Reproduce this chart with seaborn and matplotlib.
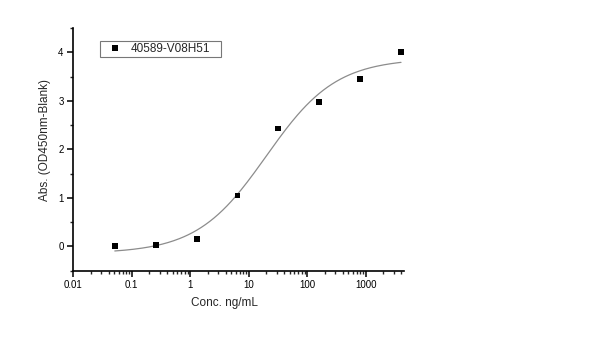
import numpy as np
import pandas as pd
import matplotlib
matplotlib.use("Agg")
import matplotlib.pyplot as plt
import seaborn as sns
from matplotlib.ticker import LogLocator, FixedLocator, NullFormatter, MultipleLocator

# ---- data ----
series_name = "40589-V08H51"
conc = [0.0512, 0.256, 1.28, 6.4, 32, 160, 800, 4000]
absorb = [0.01, 0.03, 0.16, 1.05, 2.43, 2.97, 3.45, 4.00]
x_ticks = [0.01, 0.1, 1, 10, 100, 1000]
x_tick_labels = ["0.01", "0.1", "1", "10", "100", "1000"]
y_ticks = [0, 1, 2, 3, 4]

df = pd.DataFrame({"conc": conc, "abs": absorb, "series": series_name})

# ---- 4-parameter logistic fit (Levenberg-Marquardt, numpy only) ----
lx = np.log10(np.array(conc, float))
yy = np.array(absorb, float)

def f4(p, t):
    A, D, lc, B = p
    return D + (A - D) / (1.0 + 10.0 ** ((t - lc) * B))

p = np.array([0.0, 4.0, 1.2, 0.8])
lam = 1e-2
def sse(p):
    return np.sum((yy - f4(p, lx)) ** 2)
for _ in range(500):
    r = yy - f4(p, lx)
    J = np.empty((len(lx), 4))
    for k in range(4):
        dp = np.zeros(4); h = 1e-6 * max(1.0, abs(p[k])); dp[k] = h
        J[:, k] = (f4(p + dp, lx) - f4(p - dp, lx)) / (2 * h)
    JTJ = J.T @ J
    step = np.linalg.solve(JTJ + lam * np.diag(np.diag(JTJ)), J.T @ r)
    if sse(p + step) < sse(p):
        p = p + step; lam *= 0.5
    else:
        lam *= 4

fit_x = np.logspace(np.log10(conc[0]), np.log10(conc[-1]), 200)
fit_df = pd.DataFrame({"conc": fit_x, "abs": f4(p, np.log10(fit_x))})

# ---- plotting ----
sns.set_theme(style="ticks")
plt.rcParams["font.family"] = ["Liberation Sans", "DejaVu Sans"]

fig = plt.figure(figsize=(6, 3.38), dpi=100)
ax = fig.add_axes([73.3 / 600, 1 - 270.7 / 338, (404 - 73.3) / 600, (270.7 - 28) / 338])

sns.lineplot(data=fit_df, x="conc", y="abs", ax=ax, color="#8c8c8c", lw=0.9,
             legend=False, estimator=None)
sns.scatterplot(data=df, x="conc", y="abs", hue="series", palette=["black"],
                marker="s", s=18, edgecolor="black", linewidth=0, ax=ax, zorder=3)

ax.set_xscale("log")
ax.set_xlim(0.01, 4500)
ax.set_ylim(-0.5, 4.5)
ax.xaxis.set_major_locator(FixedLocator(x_ticks))
ax.set_xticklabels(x_tick_labels)
ax.xaxis.set_minor_locator(LogLocator(base=10, subs=np.arange(2, 10), numticks=20))
ax.xaxis.set_minor_formatter(NullFormatter())
ax.yaxis.set_major_locator(FixedLocator(y_ticks))
ax.yaxis.set_minor_locator(MultipleLocator(0.5))

for s in ["top", "right"]:
    ax.spines[s].set_visible(False)
for s in ["left", "bottom"]:
    ax.spines[s].set_linewidth(1.2)
    ax.spines[s].set_color("black")

ax.tick_params(axis="both", which="major", direction="out", length=4, width=1.1,
               labelsize=7, colors="black", pad=3)
ax.tick_params(axis="both", which="minor", direction="out", length=2.5, width=1.0)

ax.set_xlabel("Conc. ng/mL", fontsize=8.5)
ax.set_ylabel("Abs. (OD450nm-Blank)", fontsize=8.5)
ax.xaxis.set_label_coords(0.457, -0.134)
ax.yaxis.set_label_coords(-0.086, 0.539)
ax.xaxis.label.set_va("center")
ax.yaxis.label.set_va("center")

leg = ax.legend(loc="upper left", bbox_to_anchor=(0.081, 0.892, 0.366, 0.056),
                mode="expand", borderaxespad=0,
                fontsize=8.5, frameon=True, fancybox=False, handletextpad=0.2,
                handlelength=2.2, borderpad=0.2, markerscale=1.0)
leg.get_frame().set_edgecolor("#555555")
leg.get_frame().set_linewidth(0.8)

fig.savefig("out.png", dpi=100)
